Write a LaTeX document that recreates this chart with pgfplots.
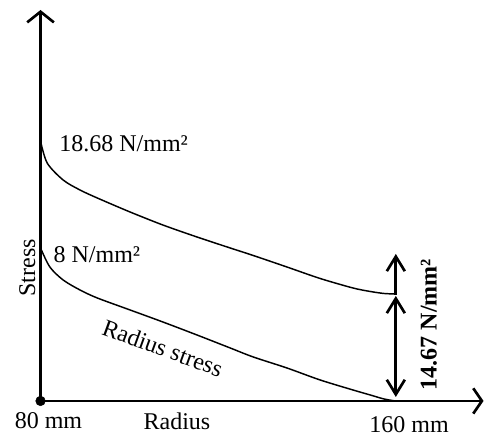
\documentclass[border=0pt]{standalone}
\usepackage{fontspec}
\setmainfont{Liberation Serif}
\usepackage{pgfplots}
\pgfplotsset{compat=1.18}
\usetikzlibrary{arrows.meta}

\begin{document}
\begin{tikzpicture}[font=\fontsize{18}{21}\selectfont]
% page size = reference proportions (485 x 439 px, 1px = 0.75pt)
\path[use as bounding box] (-30.4pt,-28.5pt) rectangle (333.4pt,300.75pt);
\begin{axis}[
    at={(0,0)}, anchor=origin,
    scale only axis,
    width=332.3pt, height=293.25pt,
    xmin=80, xmax=180,
    ymin=0, ymax=391,
    axis lines=left,
    xtick=\empty, ytick=\empty,
    clip=false,
    x axis line style={line width=2pt, -{Straight Barb[length=6.5pt,width=19pt]}},
    y axis line style={line width=2pt, -{Straight Barb[length=8pt,width=20pt]}},
]
    % outer curve (upper)
    \addplot[smooth, line width=1.1pt, black] coordinates {
        (80,260) (81.5,238) (85.1,221) (88.9,211) (92.8,203) (100.2,189)
        (107.6,176) (115.3,164) (122.8,153) (128.0,145.5) (135.6,134)
        (143.1,122.5) (150.5,113) (154.4,109.5) (157.5,107.5) (160,107)
    };
    % radius stress curve (lower)
    \addplot[smooth, line width=1.1pt, black] coordinates {
        (80,153) (82.1,134) (85.1,121) (88.9,111) (92.8,103) (100.2,91)
        (107.6,79) (115.3,66) (122.8,53) (128.0,44) (135.6,33)
        (143.1,21) (150.5,11) (154.4,6) (157.5,2) (160,0)
    };
    % origin dot
    \addplot[only marks, mark=*, mark size=3.6pt, black] coordinates {(80,0)};

    % dimension arrows
    \draw[line width=2pt, -{Straight Barb[length=11pt,width=13.5pt]}]
        (axis cs:160.2,106) -- (axis cs:160.2,147);
    \draw[line width=2pt, {Straight Barb[length=11pt,width=13.5pt]}-{Straight Barb[length=11pt,width=13.5pt]}]
        (axis cs:160.2,105) -- (axis cs:160.2,4);

    % labels
    \node[anchor=base west] at (axis cs:83.2,249) {18.68 N/mm²};
    \node[anchor=base west] at (axis cs:81.9,138) {8 N/mm²};
    \node[anchor=base, rotate=90] at (axis cs:78.8,133) {Stress};
    \node[rotate=-20] at (axis cs:107.6,53) {Radius stress};
    \node[anchor=base, rotate=90, font=\fontsize{18}{21}\selectfont\bfseries] at (axis cs:169.4,76.5) {14.67 N/mm²};
    \node[anchor=base] at (axis cs:81.8,-28) {80 mm};
    \node[anchor=base] at (axis cs:110.8,-29) {Radius};
    \node[anchor=base] at (axis cs:163.2,-32) {160 mm};
\end{axis}
\end{tikzpicture}
\end{document}
